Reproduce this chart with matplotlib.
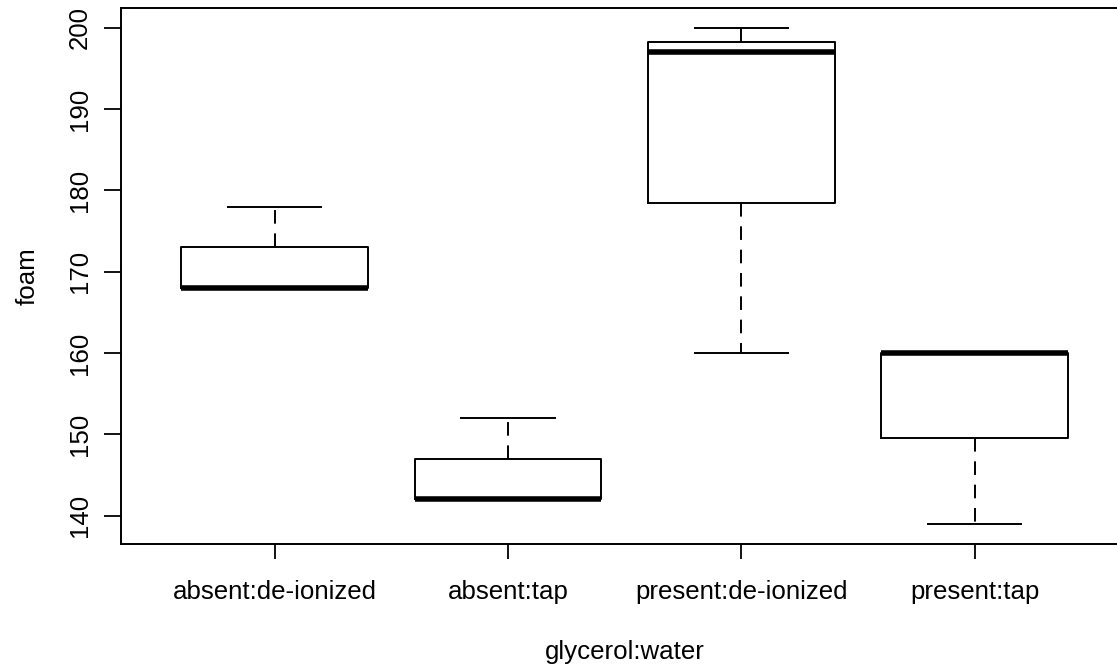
import matplotlib
matplotlib.use('Agg')
import matplotlib.pyplot as plt

plt.rcParams['font.family'] = ['Liberation Sans', 'DejaVu Sans']

# box statistics (glycerol:water groups)
groups = ['absent:de-ionized', 'absent:tap', 'present:de-ionized', 'present:tap']
whislo = [168, 142, 160, 139]
q1 = [168, 142, 178.5, 149.5]
med = [168, 142, 197, 160]
q3 = [173, 147, 198.25, 160]
whishi = [178, 152, 200, 160]

stats = []
for i, g in enumerate(groups):
    stats.append({'label': g, 'whislo': whislo[i], 'q1': q1[i], 'med': med[i],
                  'q3': q3[i], 'whishi': whishi[i], 'fliers': []})

W, H = 1117, 671
fig = plt.figure(figsize=(W / 100, H / 100), dpi=100)
ax = fig.add_axes([120.7 / W, (H - 543.5) / H, 1008 / W, (543.5 - 8) / H])

ax.bxp(stats, positions=[1, 2, 3, 4], widths=0.8, showfliers=False,
       boxprops=dict(color='black', linewidth=1.4),
       medianprops=dict(color='black', linewidth=4.0, solid_capstyle='butt'),
       whiskerprops=dict(color='black', linewidth=1.4, linestyle=(0, (7, 5))),
       capprops=dict(color='black', linewidth=1.4),
       capwidths=0.4)

ymin, ymax = 139, 200
pad = (ymax - ymin) * 0.04
ax.set_ylim(ymin - pad, ymax + pad)
ax.set_xlim(0.34, 4.66)

fs = 18.6
ax.set_yticks([140, 150, 160, 170, 180, 190, 200])
ax.tick_params(axis='y', length=12, width=1.3, pad=9, labelsize=fs)
for lab in ax.get_yticklabels():
    lab.set_rotation(90)
    lab.set_va('center')
ax.set_xticks([1, 2, 3, 4])
ax.set_xticklabels(groups)
ax.tick_params(axis='x', length=11, width=1.3, pad=15, labelsize=fs)

for s in ax.spines.values():
    s.set_linewidth(1.4)

ax.set_xlabel('glycerol:water', fontsize=fs, labelpad=26)
ax.set_ylabel('foam', fontsize=fs, labelpad=20)

fig.savefig('out.png', dpi=100)
